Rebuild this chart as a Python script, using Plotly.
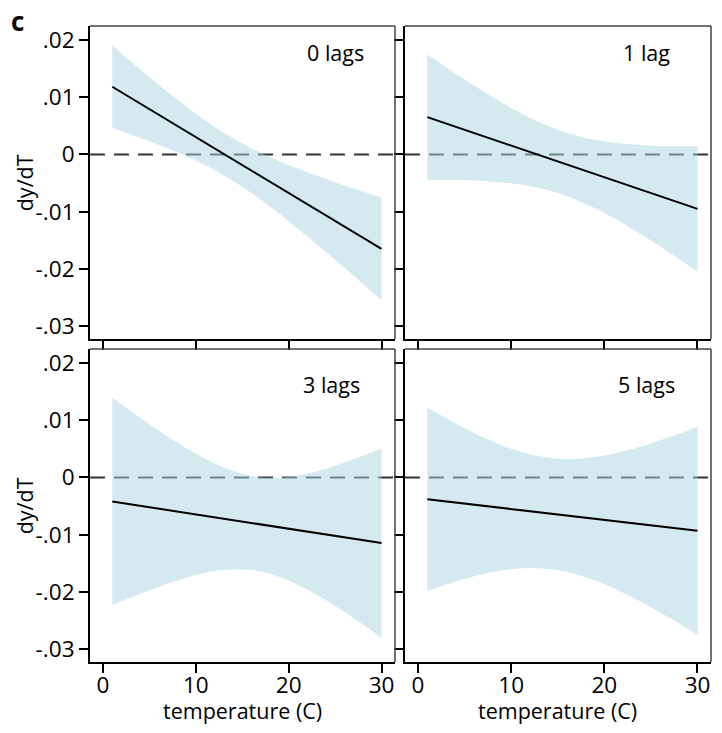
import plotly.graph_objects as go

# ---------------- data ----------------
temps = [1, 4, 7, 10, 13, 16, 19, 22, 25, 28, 30]

lag0_est = [0.0118, 0.00887, 0.00594, 0.00302, 0.00009, -0.00284, -0.00577, -0.0087, -0.01162, -0.01455, -0.0165]
lag0_hi = [0.0190, 0.01485, 0.01084, 0.00711, 0.00380, 0.00106, -0.00118, -0.00310, -0.00484, -0.00649, -0.00755]
lag0_lo = [0.0046, 0.00289, 0.00104, -0.00107, -0.00362, -0.00674, -0.01036, -0.01430, -0.01840, -0.02261, -0.02545]

lag1_est = [0.0065, 0.00484, 0.00319, 0.00153, -0.00012, -0.00178, -0.00344, -0.00509, -0.00675, -0.0084, -0.00951]
lag1_hi = [0.01743, 0.01413, 0.01100, 0.00810, 0.00562, 0.00373, 0.00252, 0.00185, 0.00153, 0.00143, 0.00142]
lag1_lo = [-0.00443, -0.00445, -0.00462, -0.00504, -0.00586, -0.00729, -0.00940, -0.01203, -0.01503, -0.01823, -0.02044]

lag3_est = [-0.0042, -0.00495, -0.0057, -0.00645, -0.0072, -0.00795, -0.0087, -0.00945, -0.0102, -0.01095, -0.01145]
lag3_hi = [0.01388, 0.01039, 0.00709, 0.00411, 0.00172, 0.00025, -0.00004, 0.00067, 0.00203, 0.00377, 0.00506]
lag3_lo = [-0.02228, -0.02029, -0.01849, -0.01701, -0.01612, -0.01615, -0.01736, -0.01957, -0.02243, -0.02567, -0.02796]

lag5_est = [-0.0038, -0.00437, -0.00494, -0.00551, -0.00608, -0.00665, -0.00722, -0.00779, -0.00836, -0.00893, -0.00931]
lag5_hi = [0.01219, 0.00943, 0.00697, 0.00498, 0.00368, 0.00321, 0.00355, 0.00452, 0.00593, 0.00760, 0.00883]
lag5_lo = [-0.01979, -0.01817, -0.01685, -0.01600, -0.01584, -0.01651, -0.01799, -0.02010, -0.02265, -0.02546, -0.02745]

panel_labels = ["0 lags", "1 lag", "3 lags", "5 lags"]
x_tickvals = [0, 10, 20, 30]
x_ticktext = ["0", "10", "20", "30"]
y_tickvals = [-0.03, -0.02, -0.01, 0, 0.01, 0.02]
y_ticktext = ["-.03", "-.02", "-.01", "0", ".01", ".02"]
y_title = "dy/dT"
x_title = "temperature (C)"
panel_letter = "c"

# ---------------- styling ----------------
FONT = "Open Sans"
FS_TICK = 22.5
FS_TITLE = 21.5
FS_LAB = 21.5
BAND = "rgba(171,211,227,0.5)"

panels = [
    (lag0_est, lag0_hi, lag0_lo),
    (lag1_est, lag1_hi, lag1_lo),
    (lag3_est, lag3_hi, lag3_lo),
    (lag5_est, lag5_hi, lag5_lo),
]

fig = go.Figure()

for i, (est, hi, lo) in enumerate(panels):
    n = "" if i == 0 else str(i + 1)
    xa, ya = "x" + n, "y" + n
    fig.add_trace(go.Scatter(x=temps, y=lo, mode="lines", line=dict(width=0, shape="spline"),
                             xaxis=xa, yaxis=ya, showlegend=False, hoverinfo="skip"))
    fig.add_trace(go.Scatter(x=temps, y=hi, mode="lines", line=dict(width=0, shape="spline"),
                             fill="tonexty", fillcolor=BAND,
                             xaxis=xa, yaxis=ya, showlegend=False, hoverinfo="skip"))
    fig.add_trace(go.Scatter(x=temps, y=est, mode="lines", line=dict(color="black", width=2),
                             xaxis=xa, yaxis=ya, showlegend=False))

xdom_l = [0, 0.4911]
xdom_r = [0.5072, 1]
ydom_t = [0.5079, 1]
ydom_b = [0, 0.4921]
xr = [-1.4, 31.45]
yr = [-0.0322, 0.0224]

common_ax = dict(showline=True, linecolor="black", linewidth=2, ticks="outside", ticklen=9,
                 tickwidth=2, tickcolor="black", showgrid=False, zeroline=False,
                 tickfont=dict(family=FONT, size=FS_TICK, color="black"))

layout_axes = {}
specs = [
    ("", xdom_l, ydom_t, False, True),
    ("2", xdom_r, ydom_t, False, False),
    ("3", xdom_l, ydom_b, True, True),
    ("4", xdom_r, ydom_b, True, False),
]
for n, xd, yd, show_x, show_y in specs:
    layout_axes["xaxis" + n] = dict(common_ax, domain=xd, range=xr, anchor="y" + n,
                                    tickvals=x_tickvals, ticktext=x_ticktext, showticklabels=show_x,
                                    ticklabelstandoff=-7)
    layout_axes["yaxis" + n] = dict(common_ax, domain=yd, range=yr, anchor="x" + n,
                                    tickvals=y_tickvals, ticktext=y_ticktext, showticklabels=show_y)

fig.update_layout(**layout_axes)

shapes = []
for n, *_ in specs:
    xref, yref = "x" + n + " domain", "y" + n + " domain"
    yref_data = "y" + n
    shapes.append(dict(type="line", xref=xref, yref=yref_data, x0=0, x1=1, y0=0, y1=0,
                       line=dict(color="#333333", width=2, dash="15px,9px"), layer="below"))
    shapes.append(dict(type="line", xref=xref, yref=yref, x0=0, x1=1, y0=1, y1=1,
                       line=dict(color="#444444", width=1.5), layer="above"))
    shapes.append(dict(type="line", xref=xref, yref=yref, x0=1, x1=1, y0=0, y1=1,
                       line=dict(color="#444444", width=1.5), layer="above"))

annotations = []
ann_pos = [("", 25.0, 0.0177), ("2", 24.5, 0.0177), ("3", 24.6, 0.0162), ("4", 24.5, 0.0162)]
for (n, ax_x, ax_y), lab in zip(ann_pos, panel_labels):
    annotations.append(dict(text=lab, xref="x" + n, yref="y" + n, x=ax_x, y=ax_y,
                            xanchor="center", yanchor="middle", showarrow=False,
                            font=dict(family=FONT, size=FS_LAB, color="black")))

for yd in (ydom_t, ydom_b):
    annotations.append(dict(text=y_title, xref="paper", yref="paper", x=-0.105, y=(yd[0] + yd[1]) / 2,
                            textangle=-90, xanchor="center", yanchor="middle", showarrow=False,
                            font=dict(family=FONT, size=FS_TITLE, color="black")))
for xd in (xdom_l, xdom_r):
    annotations.append(dict(text=x_title, xref="paper", yref="paper", x=(xd[0] + xd[1]) / 2, y=-0.0765,
                            xanchor="center", yanchor="middle", showarrow=False,
                            font=dict(family=FONT, size=FS_TITLE, color="black")))

annotations.append(dict(text="<b>" + panel_letter + "</b>", xref="paper", yref="paper", x=-0.13, y=1.008,
                        xanchor="left", yanchor="middle", showarrow=False,
                        font=dict(family=FONT, size=26, color="black")))

# the page adds an 8px body margin; the figure is offset by it
fig.update_layout(
    width=714, height=725,
    margin=dict(l=82, r=11, t=18, b=71, pad=0),
    paper_bgcolor="white", plot_bgcolor="white",
    shapes=shapes, annotations=annotations,
    font=dict(family=FONT, size=FS_TICK, color="black"),
    showlegend=False,
)

fig.write_html("out.html")
